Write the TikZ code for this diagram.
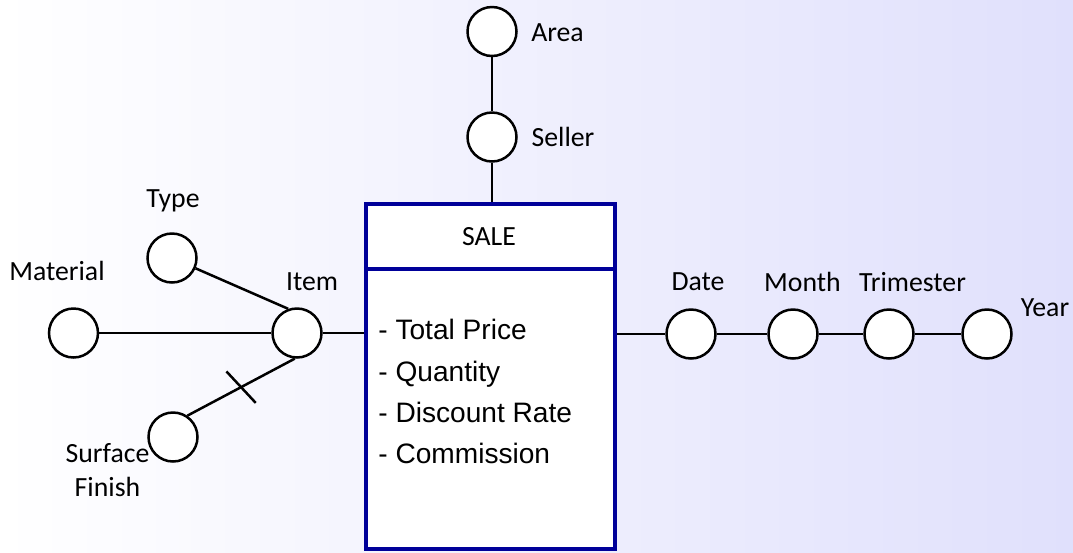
\documentclass[tikz,border=0pt]{standalone}
\usepackage{fontspec}
\newfontfamily\labelfont{Carlito}
\newfontfamily\attrfont{Liberation Sans}
\usetikzlibrary{calc}

\begin{document}
\begin{tikzpicture}[x=0.02cm, y=-0.02cm,
    level/.style={circle, draw, fill=white, line width=0.05cm, minimum size=0.98cm, inner sep=0pt},
    tag/.style={font=\labelfont\fontsize{15.8}{19.8}\selectfont, inner sep=0pt, align=center},
    attr/.style={font=\attrfont\fontsize{16}{18}\selectfont, anchor=base west, inner sep=0pt},
    link/.style={line width=0.05cm},
    fact/.style={draw=r0g0b153, line width=0.09cm, fill=white, minimum width=4.98cm, minimum height=6.9cm, inner sep=0pt}]

    % Changing color 224 224 252
    \definecolor{r224g224b252}{rgb}{0.878431,0.878431,0.988235}%
    % Changing color 0 0 153
    \definecolor{r0g0b153}{rgb}{0.000000,0.000000,0.600000}%

    % Shading background
    \useasboundingbox (0,0) rectangle (1073,552);
    \shade [left color=white, right color=r224g224b252] (0,0) rectangle (1073,552);

    % Fact box SALE
    \node [fact] (sale) at (490.5,376.5) {};
    \draw [draw=r0g0b153, line width=0.09cm] (sale.west |- 0,269) -- (sale.east |- 0,269);
    \node [tag] (saleName) at (489,237) {SALE};
    \foreach \i/\txt/\y in {1/Total Price/339, 2/Quantity/381, 3/Discount Rate/422, 4/Commission/463}
        \node [attr] (attr\i) at (378,\y) {- \txt};

    % Marking levels by circles
    \node [level] (material) at (73.5,333) {};
    \node [level] (type) at (172,258) {};
    \node [level] (item) at (297,333) {};
    \node [level] (surface) at (173,437) {};
    \node [level] (seller) at (492,137) {};
    \node [level] (area) at (492,31.5) {};
    \node [level] (date) at (691,334) {};
    \node [level] (month) at (793,334) {};
    \node [level] (trimester) at (889,334) {};
    \node [level] (year) at (987,334) {};

    % Level names
    \node [tag] (materialName) at (57,271) {Material};
    \node [tag] (typeName) at (173,201) {Type};
    \node [tag] (itemName) at (312,282) {Item};
    \node [tag] (surfaceName) at (107.5,470) {Surface\\Finish};
    \node [tag] (sellerName) at (563,137) {Seller};
    \node [tag] (areaName) at (557.5,33) {Area};
    \node [tag] (dateName) at (698,282) {Date};
    \node [tag] (monthName) at (802.5,282) {Month};
    \node [tag] (trimesterName) at (912.5,282) {Trimester};
    \node [tag] (yearName) at (1045,308) {Year};

    % Drawing lines of the item hierarchy
    \draw [link] (material) -- (item);
    \draw [link] (type) -- (item.110);
    \draw [link] (surface.56) -- coordinate[pos=0.5] (cut) (item.265);
    \draw [link] ($(cut)!0.43cm!-75:(item.265)$) -- ($(cut)!0.43cm!105:(item.265)$);
    \draw [link] (item) -- (item -| sale.west);

    % Drawing lines of the seller hierarchy
    \draw [link] (area) -- (seller);
    \draw [link] (seller) -- (seller |- sale.north);

    % Drawing lines of the date hierarchy
    \draw [link] (sale.east |- date) -- (date);
    \draw [link] (date) -- (month);
    \draw [link] (month) -- (trimester);
    \draw [link] (trimester) -- (year);
\end{tikzpicture}
\end{document}
